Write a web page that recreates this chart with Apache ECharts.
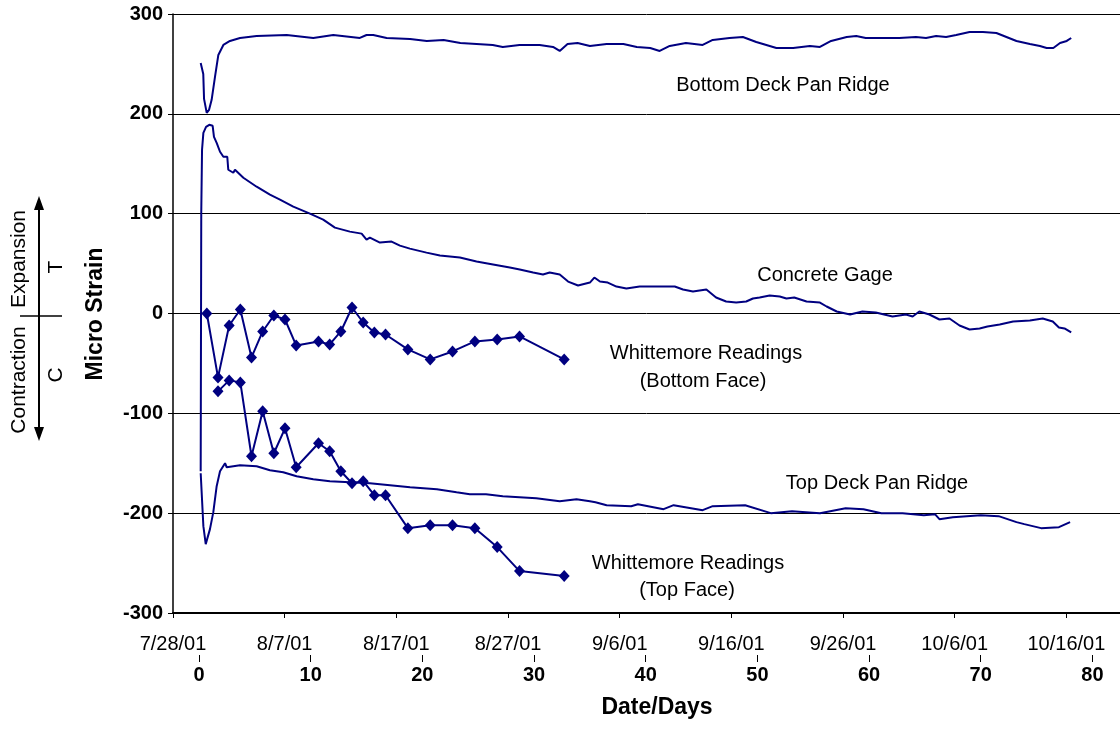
<!DOCTYPE html>
<html>
<head>
<meta charset="utf-8">
<script src="https://cdn.jsdelivr.net/npm/echarts@6/dist/echarts.min.js"></script>
<style>
  html, body { margin: 0; padding: 0; background: #fff; }
  #chart { width: 1120px; height: 729px; }
</style>
</head>
<body>
<div id="chart"></div>
<script>
// Tick labels
const dateLabels = ['7/28/01', '8/7/01', '8/17/01', '8/27/01', '9/6/01', '9/16/01', '9/26/01', '10/6/01', '10/16/01'];
const dateTicks = [0, 10, 20, 30, 40, 50, 60, 70, 80];   // days since 7/28/01
const dayTicks = [0, 10, 20, 30, 40, 50, 60, 70, 80];    // test days
const strainTicks = [-300, -200, -100, 0, 100, 200, 300];

// Day 0 of the test falls 2.33 days after 7/28/01
const DAY_OFFSET = 2.33;
const DATE_SPAN = 84.8;

// Bottom Deck Pan Ridge gage  [day, microstrain]
const bottomDeckPanRidge = [
  [0.15, 251], [0.3, 249], [0.38, 240], [0.45, 215], [0.69, 201], [0.9, 204], [1.13, 214], [1.43, 237],
  [1.73, 259], [2.18, 269], [2.77, 273], [3.67, 276], [5.16, 278], [7.85, 279], [10.23, 276], [12.02, 279],
  [14.4, 276], [15.0, 279], [15.6, 279], [16.8, 276], [18.9, 275], [20.4, 273], [21.9, 274], [23.4, 271],
  [24.85, 270], [26.3, 269], [27.2, 267], [28.7, 269], [30.5, 269], [31.7, 267], [32.3, 263], [33.0, 270],
  [33.9, 271], [35.0, 268], [36.5, 270], [38.0, 270], [39.2, 267], [40.4, 266], [41.25, 263], [42.15, 268],
  [43.6, 271], [45.1, 269], [46.0, 274], [47.5, 276], [48.7, 277], [49.9, 272], [50.5, 270], [51.7, 266],
  [53.2, 266], [54.7, 268], [55.6, 267], [56.6, 273], [58.0, 277], [58.85, 278], [59.7, 276], [61.2, 276],
  [62.7, 276], [64.2, 277], [65.1, 276], [66.0, 278], [66.9, 277], [67.8, 279], [69.0, 282], [70.2, 282],
  [71.4, 281], [72.3, 277], [73.2, 273], [74.4, 270], [75.3, 268], [75.9, 266], [76.5, 266], [77.1, 271],
  [77.7, 273], [78.1, 276]
];

// Concrete embedded gage
const concreteGage = [
  [0.15, -158], [0.2, 100], [0.27, 164], [0.39, 181], [0.63, 187], [0.92, 189], [1.22, 188], [1.34, 177],
  [1.58, 171], [1.88, 162], [2.18, 157], [2.53, 157], [2.62, 144], [3.07, 141], [3.22, 144], [3.97, 136],
  [5.16, 127], [6.35, 119], [7.25, 114], [8.44, 107], [9.93, 100], [11.12, 94], [12.17, 86], [13.51, 82],
  [14.56, 80], [15.0, 74], [15.3, 76], [16.2, 71], [17.24, 72], [17.99, 68], [18.88, 65], [20.37, 61],
  [21.57, 58], [23.36, 56], [24.85, 52], [26.33, 49], [27.83, 46], [28.72, 44], [29.92, 41], [30.8, 39],
  [31.4, 41], [32.3, 39], [33.05, 32], [33.94, 28], [35.0, 31], [35.4, 36], [35.9, 32], [36.6, 31],
  [37.38, 27], [38.27, 25], [39.46, 27], [41.25, 27], [42.6, 27], [43.34, 24], [44.23, 22], [45.43, 24],
  [46.3, 16], [47.2, 12], [48.1, 11], [49.0, 12], [49.6, 15], [50.2, 16], [51.1, 18], [52.0, 17],
  [52.6, 15], [53.3, 16], [54.4, 12], [55.6, 11], [56.2, 7], [57.1, 2], [58.3, -1], [59.4, 2],
  [60.6, 1], [62.1, -3], [63.3, -1], [63.9, -3], [64.5, 2], [65.4, -1], [66.3, -6], [67.2, -5],
  [68.1, -12], [69.0, -16], [69.9, -15], [70.6, -13], [71.7, -11], [72.9, -8], [74.4, -7], [75.55, -5],
  [76.45, -8], [77.0, -14], [77.5, -15], [78.1, -19]
];

// Top Deck Pan Ridge gage
const topDeckPanRidge = [
  [0.15, -160], [0.39, -213], [0.6, -231], [0.98, -216], [1.28, -199], [1.58, -173], [1.88, -158], [2.33, -150],
  [2.48, -154], [3.67, -152], [5.16, -153], [6.35, -157], [7.54, -159], [8.74, -163], [10.23, -166], [11.72, -168],
  [13.5, -169], [15.3, -170], [17.1, -172], [18.9, -174], [21.3, -176], [23.06, -179], [24.25, -181], [25.7, -181],
  [27.2, -183], [30.2, -185], [32.3, -188], [33.8, -186], [35.0, -188], [35.5, -189], [36.5, -192], [38.7, -193],
  [39.3, -191], [41.6, -196], [42.5, -192], [45.1, -197], [46.0, -193], [48.9, -192], [51.2, -200], [53.1, -198],
  [55.6, -200], [57.9, -195], [59.5, -196], [61.1, -200], [63.0, -200], [64.9, -202], [65.9, -201], [66.3, -206],
  [67.5, -204], [70.0, -202], [71.6, -203], [73.2, -209], [73.9, -211], [75.4, -215], [77.0, -214], [78.0, -209]
];

// Whittemore gage readings
const whittBottomDays = [0.7, 1.7, 2.7, 3.7, 4.7, 5.7, 6.7, 7.7, 8.7, 10.7, 11.7, 12.7, 13.7, 14.7, 15.7, 16.7, 18.7, 20.7, 22.7, 24.7, 26.7, 28.7, 32.7];
const whittBottomVals = [0, -64, -12, 4, -44, -18, -2, -6, -32, -28, -31, -18, 6, -9, -19, -21, -36, -46, -38, -28, -26, -23, -46];
const whittTopDays = [1.7, 2.7, 3.7, 4.7, 5.7, 6.7, 7.7, 8.7, 10.7, 11.7, 12.7, 13.7, 14.7, 15.7, 16.7, 18.7, 20.7, 22.7, 24.7, 26.7, 28.7, 32.7];
const whittTopVals = [-78, -67, -69, -143, -98, -140, -115, -154, -130, -138, -158, -170, -168, -182, -182, -215, -212, -212, -215, -234, -258, -263];

const zip = (xs, ys) => xs.map((x, i) => [x, ys[i]]);

const FONT = "'Liberation Sans', Arial, Helvetica, sans-serif";
const NAVY = '#000080';

const chart = echarts.init(document.getElementById('chart'), null, { renderer: 'canvas' });

const lineSeries = (name, data) => ({
  name, type: 'line', xAxisIndex: 1, yAxisIndex: 0, data,
  showSymbol: false, symbol: 'none', smooth: false, animation: false,
  lineStyle: { color: NAVY, width: 2 }, z: 3
});
const markerSeries = (name, data) => ({
  name, type: 'line', xAxisIndex: 1, yAxisIndex: 0, data,
  symbol: 'diamond', symbolSize: [11, 12], showSymbol: true, animation: false,
  itemStyle: { color: NAVY }, lineStyle: { color: NAVY, width: 2 }, z: 4
});

const txt = (x, y, text, size, opts = {}) => ({
  type: 'text', x, y, rotation: opts.rotation || 0, silent: true, z: 10,
  style: {
    text, fill: '#000', font: (opts.bold ? 'bold ' : '') + size + 'px ' + FONT,
    textAlign: 'center', textVerticalAlign: 'middle'
  }
});

chart.setOption({
  backgroundColor: '#fff',
  animation: false,
  grid: { left: 173, right: 0, top: 14, bottom: 116, containLabel: false },
  xAxis: [
    {
      // calendar date axis
      type: 'value', min: 0, max: DATE_SPAN, position: 'bottom',
      axisLine: { show: true, onZero: false, lineStyle: { color: '#000', width: 2 } },
      axisTick: { show: true, inside: false, length: 5, customValues: dateTicks, lineStyle: { color: '#000', width: 1 } },
      axisLabel: {
        customValues: dateTicks, margin: 21, color: '#000', fontSize: 20, fontFamily: FONT,
        formatter: v => dateLabels[Math.round(v / 10)]
      },
      splitLine: { show: false }
    },
    {
      // elapsed test days
      type: 'value', min: -DAY_OFFSET, max: DATE_SPAN - DAY_OFFSET, position: 'bottom', offset: 42,
      axisLine: { show: false, onZero: false },
      axisTick: { show: true, inside: false, length: 7, customValues: dayTicks, lineStyle: { color: '#000', width: 1 } },
      axisLabel: {
        customValues: dayTicks, margin: 10, color: '#000', fontSize: 20, fontWeight: 'bold', fontFamily: FONT,
        formatter: v => String(v)
      },
      splitLine: { show: false }
    }
  ],
  yAxis: {
    type: 'value', min: strainTicks[0], max: strainTicks[strainTicks.length - 1], interval: 100,
    axisLine: { show: true, onZero: false, lineStyle: { color: '#000', width: 1.5 } },
    axisTick: { show: true, inside: false, length: 5, lineStyle: { color: '#000' } },
    axisLabel: { margin: 10, color: '#000', fontSize: 20, fontWeight: 'bold', fontFamily: FONT },
    splitLine: { show: true, lineStyle: { color: '#000', width: 1 } }
  },
  series: [
    lineSeries('Bottom Deck Pan Ridge', bottomDeckPanRidge),
    lineSeries('Concrete Gage', concreteGage),
    lineSeries('Top Deck Pan Ridge', topDeckPanRidge),
    markerSeries('Whittemore Readings (Bottom Face)', zip(whittBottomDays, whittBottomVals)),
    markerSeries('Whittemore Readings (Top Face)', zip(whittTopDays, whittTopVals))
  ],
  graphic: [
    // series captions
    txt(783, 85, 'Bottom Deck Pan Ridge', 20),
    txt(825, 275, 'Concrete Gage', 20),
    txt(706, 353, 'Whittemore Readings', 20),
    txt(703, 381, '(Bottom Face)', 20),
    txt(877, 483, 'Top Deck Pan Ridge', 20),
    txt(688, 563, 'Whittemore Readings', 20),
    txt(687, 590, '(Top Face)', 20),
    // axis titles
    txt(96, 314, 'Micro Strain', 23, { bold: true, rotation: Math.PI / 2 }),
    txt(657, 708, 'Date/Days', 23, { bold: true }),
    // tension / compression key
    { type: 'line', silent: true, shape: { x1: 39, y1: 205, x2: 39, y2: 432 }, style: { stroke: '#000', lineWidth: 2 } },
    { type: 'polygon', silent: true, shape: { points: [[39, 196], [34, 210], [44, 210]] }, style: { fill: '#000' } },
    { type: 'polygon', silent: true, shape: { points: [[39, 441], [34, 427], [44, 427]] }, style: { fill: '#000' } },
    { type: 'line', silent: true, shape: { x1: 20, y1: 316, x2: 62, y2: 316 }, style: { stroke: '#000', lineWidth: 1.5 } },
    txt(19, 259, 'Expansion', 21, { rotation: Math.PI / 2 }),
    txt(19, 380, 'Contraction', 21, { rotation: Math.PI / 2 }),
    txt(56, 267, 'T', 21, { rotation: Math.PI / 2 }),
    txt(56, 375, 'C', 21, { rotation: Math.PI / 2 })
  ]
});
</script>
</body>
</html>
